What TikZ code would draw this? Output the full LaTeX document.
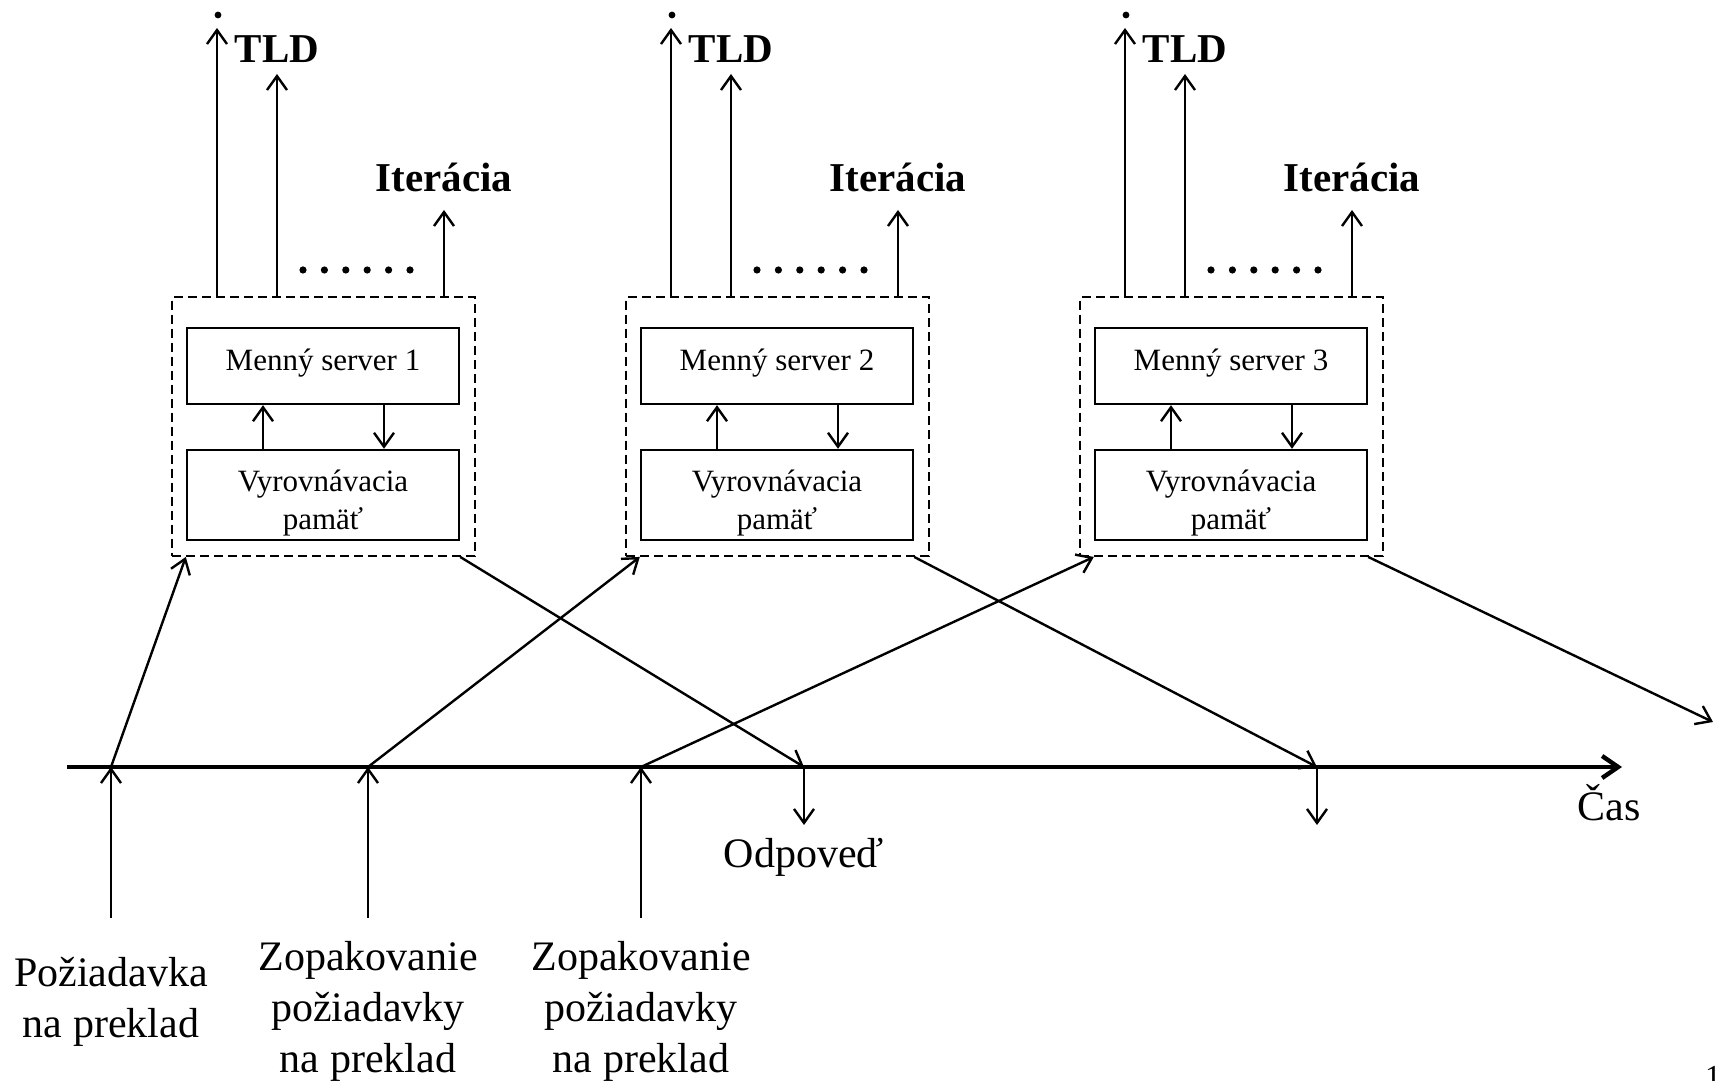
\documentclass[tikz,border=0pt]{standalone}
\usepackage{fontspec}
\setmainfont{Liberation Serif}
\usetikzlibrary{arrows.meta,positioning}

\begin{document}
\begin{tikzpicture}[x=0.5pt,y=0.5pt,>={Straight Barb[length=7pt,width=10pt]},line width=1.2pt,
  server/.style={draw,minimum width=136pt,inner sep=0pt},
  txt/.style={align=center,inner sep=0pt,font=\fontsize{15.5}{19}\selectfont},
  group/.style={draw,dash pattern=on 4.5pt off 2.5pt,minimum width=151.5pt,minimum height=129.25pt},
  lbl/.style={font=\fontsize{21}{25.5}\selectfont,align=center,inner sep=0pt},
  hdr/.style={font=\fontsize{20.5}{24}\selectfont\bfseries,inner sep=0pt,anchor=base}]
\useasboundingbox (0,0) rectangle (1725,1081);

% time axis
\coordinate (t0) at (67,314);
\coordinate (t1) at (1622,314);
\draw[->,line width=2.2pt,>={Straight Barb[length=8pt,width=11pt]}] (t0) -- (t1);
\node[lbl,anchor=base] (cas) at (1609,260) {Čas};

% name servers
\foreach \i/\dx in {1/0,2/454,3/908}{
  \begin{scope}[xshift=\dx*0.5pt]
    \node[group] (grp\i) at (323.5,654.5) {};
    \node[server,minimum height=38pt] (srv\i) at (323,715) {};
    \node[server,minimum height=45pt] (mem\i) at (323,586) {};
    \node[txt] (srvtxt\i) at (323,718) {Menný server \i};
    \node[txt] (memtxt\i) at (323,578) {Vyrovnávacia\\pamäť};
    \draw[->] ([xshift=-30pt]mem\i.north) -- ([xshift=-30pt]srv\i.south);
    \draw[->] ([xshift=30.5pt]srv\i.south) -- ([xshift=30.5pt]mem\i.north);
    % queries upwards
    \coordinate (root\i) at (217,1053);
    \coordinate (tld\i) at (277,1007);
    \coordinate (iter\i) at (444,871);
    \draw[->] (grp\i.north -| root\i) -- (root\i);
    \draw[->] (grp\i.north -| tld\i) -- (tld\i);
    \draw[->] (grp\i.north -| iter\i) -- (iter\i);
    \fill (218,1066) circle (1.7pt);
    \foreach \k in {0,...,5} \fill (303+\k*21.4,811) circle (1.8pt);
    \node[hdr] (tldlbl\i) at (277,1018) {TLD};
    \node[hdr] (iterlbl\i) at (444,889) {Iterácia};
  \end{scope}
}

% requests
\foreach \i/\x in {1/111,2/368,3/641}{
  \coordinate (req\i) at (\x,163);
  \coordinate (hit\i) at (\x,314);
  \draw[->] (req\i) -- (hit\i);
  \draw[->] (hit\i) -- (srv\i.west |- grp\i.south);
}
\node[lbl] (ask1) at (111,79) {Požiadavka\\na preklad};
\node[lbl] (ask2) at (368,70) {Zopakovanie\\požiadavky\\na preklad};
\node[lbl] (ask3) at (641,70) {Zopakovanie\\požiadavky\\na preklad};

% answers
\coordinate (ans1) at (804,314);
\coordinate (ans2) at (1317,314);
\coordinate (ans3) at (1713,359);
\coordinate (out1) at (804,256);
\coordinate (out2) at (1317,256);
\foreach \i in {1,2,3} \draw[->] (srv\i.east |- grp\i.south) -- (ans\i);
\draw[->] (ans1) -- (out1);
\draw[->] (ans2) -- (out2);
\node[lbl] (odp) at (804,224) {Odpoveď};

\node[anchor=north west,inner sep=0pt,font=\fontsize{16}{16}\selectfont] (pg) at (1704,16) {1};
\end{tikzpicture}
\end{document}
